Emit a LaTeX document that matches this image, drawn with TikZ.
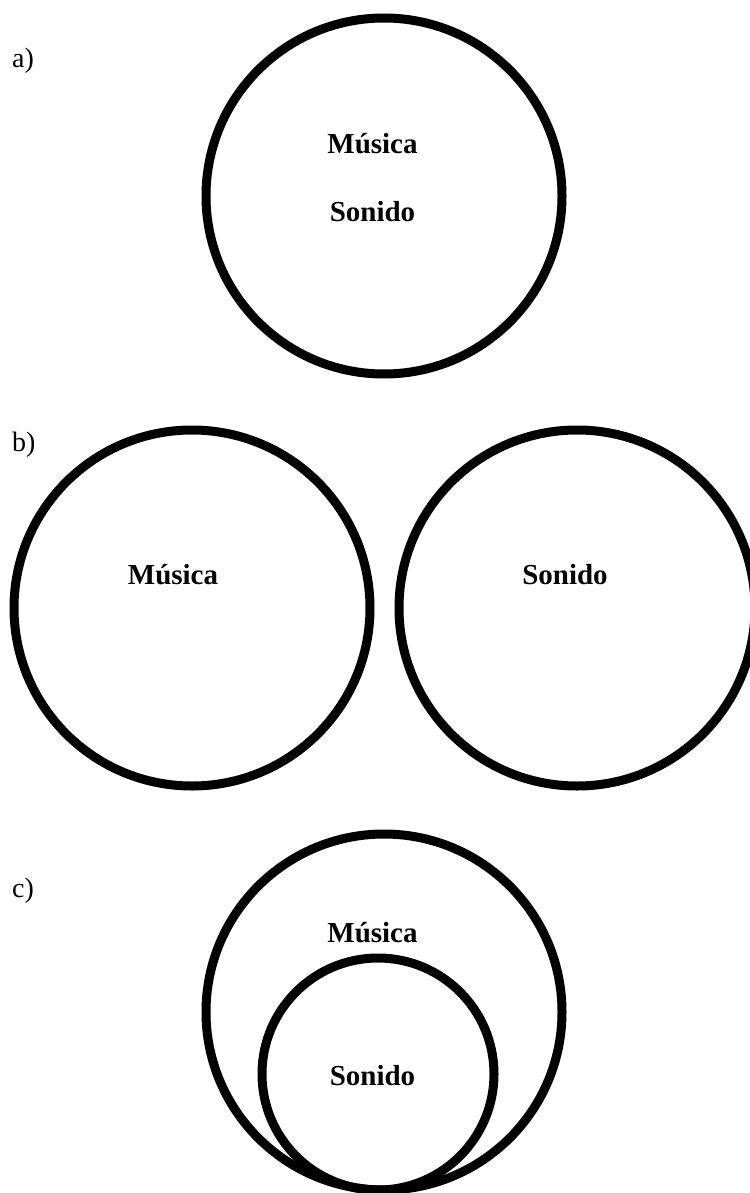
\documentclass[tikz,border=0pt]{standalone}
\usepackage{fontspec}
\setmainfont{Liberation Serif}

\begin{document}
\begin{tikzpicture}[x=1pt, y=-1pt,
		  conjunto/.style={circle, draw, line width=9pt, inner sep=0pt},
		  grande/.style={conjunto, minimum size=356pt},
		  chico/.style={conjunto, minimum size=232pt},
		  nombre/.style={anchor=base, inner sep=0pt, font=\fontsize{29}{34}\selectfont\bfseries},
		  letra/.style={anchor=base west, inner sep=0pt, font=\fontsize{28}{33}\selectfont}]
		  \useasboundingbox (0,0) rectangle (749,1193);
		  % a) el mismo conjunto
		  \node[letra] (la) at (12,68) {a)};
		  \node[grande] (ca) at (384,196) {};
		  \node[nombre] (ma) at (372.5,154) {Música};
		  \node[nombre] (sa) at (372.5,221) {Sonido};
		  % b) conjuntos disjuntos
		  \node[letra] (lb) at (12,451) {b)};
		  \node[grande] (cbm) at (192,608) {};
		  \node[grande] (cbs) at (577,608) {};
		  \node[nombre] (mb) at (173,584) {Música};
		  \node[nombre] (sb) at (565,584) {Sonido};
		  % c) sonido dentro de musica
		  \node[letra] (lc) at (12,897) {c)};
		  \node[grande] (ccm) at (384,1012) {};
		  \node[chico] (ccs) at (378,1074) {};
		  \node[nombre] (mc) at (372.5,942) {Música};
		  \node[nombre] (sc) at (372.5,1085) {Sonido};
	\end{tikzpicture}
\end{document}
